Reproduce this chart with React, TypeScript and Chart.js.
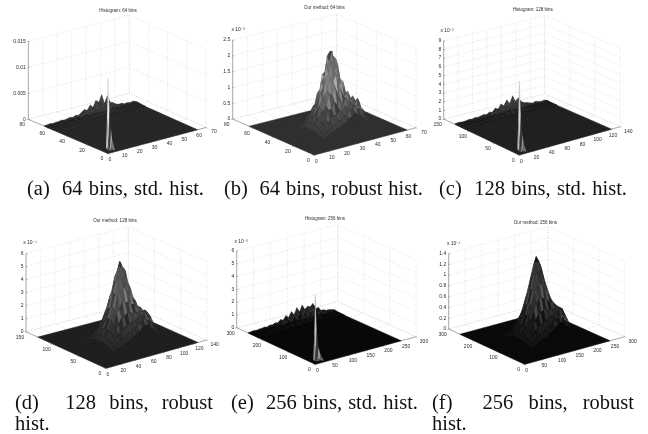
import { useEffect, useRef } from "react";
import { Chart, registerables } from "chart.js";
Chart.register(...registerables);

// ---------- values ----------
const titles = ["Histogram: 64 bins", "Our method: 64 bins", "Histogram: 128 bins", "Our method: 128 bins", "Histogram: 256 bins", "Our method: 256 bins"];
const captions = ["(a)  64 bins, std. hist.", "(b)  64 bins, robust hist.", "(c)  128 bins, std. hist.", "(d)  128 bins, robust", "hist.", "(e)  256 bins, std. hist.", "(f)  256 bins, robust", "hist."];

const xTicks64 = [0, 10, 20, 30, 40, 50, 60, 70];
const yTicks64 = [0, 20, 40, 60, 80];
const xTicks128 = [0, 20, 40, 60, 80, 100, 120, 140];
const yTicks128 = [0, 50, 100, 150];
const xTicks256 = [0, 50, 100, 150, 200, 250, 300];
const yTicks256 = [0, 100, 200, 300];

const zTicksA = [0, 5, 10, 15];
const zLabelsA = ["0", "0.005", "0.01", "0.015"];
const zTicksB = [0, 0.5, 1, 1.5, 2, 2.5];
const zTicksC = [0, 1, 2, 3, 4, 5, 6, 7, 8, 9];
const zTicksD = [0, 1, 2, 3, 4, 5, 6];
const zTicksE = [0, 1, 2, 3, 4, 5, 6];
const zTicksF = [0, 0.2, 0.4, 0.6, 0.8, 1, 1.2, 1.4];

// back-edge bumps of the standard histograms
const ridgeUA = [0, 2, 4, 6, 8, 10, 12, 14, 16, 18, 20, 22, 24, 26, 28, 30, 32, 34, 36, 38, 40, 42, 44, 46, 48, 50, 52, 54, 56, 58, 60, 62, 64];
const ridgeVA = [54, 58, 61, 64];
const ridgeA = [
  [0, .1, .1, .1, .1, .1, .1, .2, .1, .2, .1, .2, .3, .2, .3, .3, .4, .3, .4, .4, .3, .4, .3, .2, .2, .2, .1, .2, .1, .1, .1, .1, .1],
  [.1, .1, .1, .1, .2, .1, .2, .2, .3, .2, .4, .3, .4, .6, .4, .8, .6, 1, .7, 1.1, .8, .9, .6, .7, .4, .3, .3, .2, .2, .2, .1, .2, .1],
  [.1, .2, .1, .2, .1, .3, .2, .3, .2, .3, .5, .3, .7, .5, .9, 1.3, .8, 1.6, 1, 1.9, 1.1, 2, .9, 1.2, .6, .8, .4, .3, .4, .2, .3, .2, .2],
  [.1, .1, .2, .1, .2, .2, .3, .2, .3, .4, .3, .5, .4, .8, 1.2, .9, 1.8, 1.2, 2.4, 1.9, 3.2, 1.4, 2.7, 1.3, 1.1, .7, .5, .6, .3, .4, .3, .4, .2],
];
const ridgeUC = [0, 4, 8, 12, 16, 20, 24, 28, 32, 36, 40, 44, 48, 52, 56, 60, 64, 68, 72, 76, 80, 84, 88, 92, 96, 100, 104, 108, 112, 116, 120, 124, 128];
const ridgeVC = [108, 116, 122, 128];
const ridgeC = [
  [0, .05, .05, .1, .05, .1, .05, .1, .1, .15, .1, .15, .2, .15, .2, .2, .3, .2, .3, .2, .3, .3, .2, .15, .15, .1, .1, .1, .1, .05, .1, .05, .05],
  [.05, .05, .1, .05, .1, .1, .1, .15, .1, .2, .15, .2, .3, .25, .35, .3, .5, .35, .6, .4, .7, .5, .6, .3, .3, .2, .15, .15, .1, .1, .1, .05, .05],
  [.05, .1, .05, .1, .1, .1, .15, .1, .2, .15, .25, .2, .35, .5, .3, .7, .5, .9, .6, 1.1, .7, 1, .6, .5, .3, .3, .2, .2, .15, .1, .1, .1, .05],
  [.05, .1, .1, .05, .1, .15, .1, .2, .15, .2, .3, .2, .4, .3, .7, .5, 1, .7, 1.3, .8, 1.6, .9, 1.2, .7, .5, .4, .3, .2, .3, .2, .15, .2, .1],
];
const ridgeUE = [0, 8, 16, 24, 32, 40, 48, 56, 64, 72, 80, 88, 96, 104, 112, 120, 128, 136, 144, 152, 160, 168, 176, 184, 192, 200, 208, 216, 224, 232, 240, 248, 256];
const ridgeVE = [216, 232, 244, 256];
const ridgeE = [
  [0, .03, .03, .05, .03, .05, .05, .05, .08, .05, .1, .08, .1, .1, .15, .1, .2, .15, .2, .15, .2, .15, .2, .15, .15, .1, .1, .05, .08, .05, .05, .03, .03],
  [.03, .03, .05, .05, .05, .05, .1, .05, .1, .1, .15, .1, .2, .15, .3, .2, .35, .25, .45, .3, .5, .35, .45, .3, .35, .2, .2, .15, .1, .1, .05, .05, .03],
  [.03, .05, .05, .05, .1, .05, .1, .1, .15, .1, .2, .15, .3, .2, .45, .3, .6, .35, .75, .4, .8, .5, .7, .6, .7, .35, .35, .2, .2, .15, .1, .1, .05],
  [.05, .05, .1, .05, .1, .1, .15, .1, .2, .15, .25, .2, .4, .3, .6, .4, .8, .5, 1, .6, 1.1, .7, .9, .8, 1, .5, .6, .3, .3, .2, .2, .15, .1],
];

// spike at the origin of the standard histograms
const spikeUA = [0, 1, 2, 3, 5];
const spikeVA = [0, 1, 2];
const spikeA = [[14.5, 8.5, 5, 2.5, .3], [7, 2, 1, .6, .2], [1, .5, .3, .2, .1]];
const spikeUC = [0, 2, 4, 6, 10];
const spikeVC = [0, 2, 4];
const spikeC = [[8.5, 4.6, 2.4, 1.2, .2], [4, 1.2, .6, .3, .1], [.6, .3, .2, .1, .05]];
const spikeUE = [0, 4, 9, 16, 26];
const spikeVE = [0, 4, 8];
const spikeE = [[5.45, 2.7, 1.3, .6, .1], [2.4, .7, .4, .2, .05], [.3, .15, .1, .05, .02]];
const spikeShadeA = [[235, 60, 165, 120], [200, 90, 140, 90]];
const spikeShadeC = [[215, 55, 150, 110], [180, 80, 120, 70]];
const spikeShadeE = [[190, 60, 150, 100], [150, 70, 100, 50]];

// central mound of the robust histograms (rows run from front to back)
const moundUB = [17, 19, 21, 23, 25, 27, 29, 31, 33, 35, 37, 39, 41, 43, 45, 47, 49];
const moundVB = [16, 18, 20, 22, 24, 26, 28, 30, 32, 34, 36, 38, 40, 42, 44, 46, 48];
const moundB = [
  [.07, .11, .13, .20, .21, .28, .28, .37, .39, .51, .53, .66, .55, .53, .38, .32, .19],
  [.11, .15, .25, .27, .38, .37, .47, .46, .59, .57, .72, .69, .82, .64, .60, .39, .31],
  [.12, .24, .31, .47, .50, .64, .61, .76, .68, .83, .74, .90, .81, .93, .67, .60, .38],
  [.17, .24, .45, .56, .80, .81, 1.02, .90, 1.06, .88, 1.03, .87, 1.02, .85, .94, .62, .53],
  [.17, .32, .44, .76, .92, 1.27, 1.21, 1.42, 1.18, 1.31, 1.05, 1.16, .92, 1.01, .80, .83, .54],
  [.21, .31, .55, .72, 1.21, 1.36, 1.76, 1.58, 1.76, 1.40, 1.48, 1.10, 1.16, .87, .91, .68, .66],
  [.19, .37, .49, .89, 1.07, 1.69, 1.78, 2.18, 1.88, 1.98, 1.47, 1.48, 1.05, 1.03, .74, .72, .52],
  [.22, .30, .58, .73, 1.23, 1.40, 2.10, 2.13, 2.46, 1.98, 1.98, 1.40, 1.31, .88, .83, .56, .52],
  [.19, .35, .45, .81, .96, 1.52, 1.67, 2.30, 2.43, 2.26, 2.14, 1.55, 1.38, .90, .79, .51, .44],
  [.21, .28, .48, .59, .99, 1.14, 1.71, 1.75, 2.29, 2.30, 2.13, 1.60, 1.41, .90, .76, .45, .38],
  [.14, .29, .37, .59, .70, 1.12, 1.20, 1.71, 1.67, 2.06, 1.80, 1.74, 1.21, 1.01, .61, .48, .28],
  [.12, .18, .36, .44, .66, .74, 1.12, 1.14, 1.52, 1.40, 1.66, 1.38, 1.26, .81, .64, .37, .28],
  [.08, .15, .22, .41, .46, .66, .70, .99, .96, 1.22, 1.07, 1.20, .92, .80, .50, .38, .20],
  [.08, .09, .17, .23, .41, .44, .59, .59, .81, .73, .88, .72, .75, .56, .47, .27, .20],
  [.05, .09, .10, .17, .22, .36, .37, .47, .45, .58, .49, .55, .44, .45, .30, .25, .13],
  [.05, .06, .09, .09, .15, .18, .29, .29, .34, .31, .37, .30, .32, .24, .24, .15, .11],
  [.04, .05, .06, .08, .08, .12, .14, .20, .19, .21, .18, .21, .17, .17, .12, .11, .06],
];
const moundUD = [34, 38, 42, 46, 50, 54, 58, 62, 66, 70, 74, 78, 82, 86, 90, 94, 98];
const moundVD = [32, 36, 40, 44, 48, 52, 56, 60, 64, 68, 72, 76, 80, 84, 88, 92, 96];
const moundD = [
  [.17, .25, .35, .45, .57, .62, .76, .84, 1.04, 1.16, 1.42, 1.50, 1.46, 1.21, 1.02, .72, .51],
  [.25, .38, .59, .70, .88, .96, 1.12, 1.17, 1.40, 1.46, 1.70, 1.78, 1.95, 1.63, 1.43, 1.00, .76],
  [.33, .53, .84, 1.06, 1.37, 1.42, 1.68, 1.69, 1.85, 1.86, 2.02, 2.03, 2.21, 2.10, 1.83, 1.35, 1.02],
  [.38, .66, 1.02, 1.53, 1.80, 2.22, 2.27, 2.48, 2.36, 2.43, 2.29, 2.40, 2.26, 2.33, 2.08, 1.72, 1.20],
  [.46, .72, 1.22, 1.68, 2.52, 2.82, 3.32, 3.14, 3.24, 2.92, 2.88, 2.58, 2.53, 2.25, 2.20, 1.86, 1.47],
  [.48, .84, 1.22, 1.99, 2.70, 3.73, 3.94, 4.34, 3.94, 3.84, 3.30, 3.03, 2.58, 2.40, 2.03, 1.87, 1.50],
  [.51, .82, 1.34, 1.98, 2.95, 3.76, 4.90, 4.89, 5.15, 4.42, 4.04, 3.31, 2.88, 2.28, 2.02, 1.62, 1.41],
  [.48, .84, 1.30, 2.01, 2.74, 3.85, 4.67, 5.83, 5.50, 5.43, 4.42, 3.84, 2.92, 2.42, 1.86, 1.54, 1.16],
  [.53, .76, 1.25, 1.78, 2.64, 3.40, 4.57, 5.26, 6.02, 5.50, 5.15, 3.94, 3.23, 2.37, 1.84, 1.32, 1.04],
  [.45, .79, 1.06, 1.62, 2.22, 3.13, 3.80, 4.80, 5.26, 5.83, 4.88, 4.34, 3.16, 2.48, 1.69, 1.24, .84],
  [.39, .65, 1.02, 1.32, 1.92, 2.50, 3.28, 3.80, 4.57, 4.68, 4.90, 3.94, 3.31, 2.27, 1.67, 1.06, .76],
  [.26, .51, .80, 1.21, 1.46, 2.02, 2.50, 3.13, 3.40, 3.84, 3.75, 3.74, 2.82, 2.22, 1.42, 1.01, .63],
  [.23, .34, .61, .91, 1.26, 1.46, 1.92, 2.22, 2.63, 2.74, 2.93, 2.70, 2.53, 1.78, 1.36, .84, .56],
  [.17, .26, .38, .63, .90, 1.21, 1.32, 1.62, 1.80, 2.00, 1.97, 1.97, 1.68, 1.54, 1.06, .73, .46],
  [.15, .19, .29, .38, .61, .79, 1.01, 1.06, 1.24, 1.30, 1.34, 1.23, 1.21, 1.02, .84, .55, .36],
  [.12, .15, .19, .26, .33, .50, .65, .79, .77, .84, .81, .84, .72, .66, .53, .41, .24],
  [.10, .12, .16, .16, .23, .26, .38, .45, .53, .48, .51, .48, .46, .38, .33, .24, .18],
];
const moundUF = [68, 76, 84, 92, 100, 108, 116, 124, 132, 140, 148, 156, 164, 172, 180, 188, 196];
const moundVF = [64, 72, 80, 88, 96, 104, 112, 120, 128, 136, 144, 152, 160, 168, 176, 184, 192];
const moundF = [
  [.04, .06, .09, .11, .14, .16, .18, .22, .25, .29, .35, .37, .37, .30, .25, .19, .12],
  [.06, .10, .14, .18, .21, .25, .27, .31, .34, .38, .41, .47, .47, .43, .34, .26, .18],
  [.08, .13, .21, .27, .33, .37, .41, .43, .45, .48, .49, .53, .54, .53, .45, .34, .25],
  [.10, .16, .26, .38, .45, .55, .58, .60, .61, .59, .59, .58, .59, .56, .54, .42, .31],
  [.11, .19, .29, .43, .62, .72, .81, .81, .79, .75, .70, .66, .62, .58, .54, .47, .36],
  [.12, .20, .32, .48, .69, .91, 1.01, 1.06, 1.01, .94, .85, .74, .66, .59, .52, .46, .38],
  [.12, .21, .33, .51, .72, .96, 1.20, 1.25, 1.26, 1.13, .99, .85, .70, .59, .49, .41, .35],
  [.12, .20, .33, .49, .70, .94, 1.20, 1.43, 1.41, 1.33, 1.13, .94, .75, .59, .48, .38, .30],
  [.13, .20, .30, .46, .64, .87, 1.12, 1.35, 1.50, 1.41, 1.26, 1.01, .79, .60, .45, .34, .25],
  [.12, .19, .27, .40, .57, .77, .97, 1.17, 1.35, 1.43, 1.25, 1.06, .81, .60, .43, .30, .22],
  [.09, .17, .25, .34, .47, .64, .80, .97, 1.12, 1.20, 1.20, 1.01, .81, .58, .41, .27, .19],
  [.07, .12, .20, .30, .38, .49, .64, .77, .87, .94, .96, .91, .72, .54, .36, .25, .16],
  [.06, .09, .15, .23, .31, .38, .47, .57, .64, .70, .72, .69, .62, .46, .33, .22, .14],
  [.04, .06, .10, .15, .23, .30, .34, .39, .46, .49, .51, .48, .43, .38, .27, .18, .12],
  [.04, .05, .07, .10, .15, .20, .25, .27, .30, .33, .33, .31, .30, .26, .20, .14, .09],
  [.03, .04, .05, .06, .09, .12, .17, .19, .20, .20, .21, .20, .19, .16, .14, .10, .06],
  [.02, .03, .04, .04, .06, .07, .09, .12, .13, .12, .12, .12, .11, .10, .08, .06, .04],
];

// ---------- layout of each box (page pixels) ----------
type Pt = [number, number];
interface Surface { us: number[]; vs: number[]; hs: number[][]; kind: "ridge" | "spike" | "mound"; lo: number; mid: number; top: number; alt: number; mesh: string; shade?: number[][]; }
interface Panel {
  origin: Pt; title: string; titleAt: Pt; L: Pt; F: Pt; R: Pt; B: Pt; zH: number;
  xMax: number; yMax: number; zMax: number; xTicks: number[]; yTicks: number[]; zTicks: number[]; zLabels?: string[];
  exp?: string; expAt?: Pt; bins: number; floor: string; floorMesh: string; surfaces: Surface[];
}
const ridge = (us: number[], vs: number[], hs: number[][], lo: number, mid: number, mesh: string): Surface => ({ us, vs, hs, kind: "ridge", lo, mid, top: mid, alt: 5, mesh });
const spike = (us: number[], vs: number[], hs: number[][], shade: number[][]): Surface => ({ us, vs, hs, kind: "spike", lo: 0, mid: 0, top: 0, alt: 0, mesh: "rgba(40,40,40,.35)", shade });
const mound = (us: number[], vs: number[], hs: number[][], lo: number, mid: number, top: number, alt: number, mesh: string): Surface => ({ us, vs, hs, kind: "mound", lo, mid, top, alt, mesh });

const panels: Panel[] = [
  { origin: [0, 0], title: titles[0], titleAt: [118, 10.7], L: [28.3, 119.3], F: [108, 153.5], R: [206, 127.5], B: [129.3, 93.3], zH: 78,
    xMax: 70, yMax: 80, zMax: 15, xTicks: xTicks64, yTicks: yTicks64, zTicks: zTicksA, zLabels: zLabelsA, bins: 64, floor: "#2e2e2e", floorMesh: "#1d1d1d",
    surfaces: [ridge(ridgeUA, ridgeVA, ridgeA, 44, 62, "rgba(15,15,15,.75)"), spike(spikeUA, spikeVA, spikeA, spikeShadeA)] },
  { origin: [216, 0], title: titles[1], titleAt: [324.3, 7.3], L: [232.7, 119], F: [314.3, 155], R: [416, 127.7], B: [336.7, 93], zH: 79,
    xMax: 70, yMax: 80, zMax: 2.5, xTicks: xTicks64, yTicks: yTicks64, zTicks: zTicksB, exp: "x 10⁻³", expAt: [238, 29.3], bins: 64, floor: "#363636", floorMesh: "#262626",
    surfaces: [mound(moundUB, moundVB, moundB, 54, 138, 96, 24, "rgba(30,30,30,.3)")] },
  { origin: [432, 0], title: titles[2], titleAt: [532.7, 9.7], L: [443.7, 119], F: [519.3, 155], R: [620.3, 126.7], B: [544.7, 94], zH: 78.3,
    xMax: 140, yMax: 150, zMax: 9, xTicks: xTicks128, yTicks: yTicks128, zTicks: zTicksC, exp: "x 10⁻³", expAt: [447, 31], bins: 128, floor: "#262626", floorMesh: "#161616",
    surfaces: [ridge(ridgeUC, ridgeVC, ridgeC, 36, 56, "rgba(10,10,10,.75)"), spike(spikeUC, spikeVC, spikeC, spikeShadeC)] },
  { origin: [0, 205], title: titles[3], titleAt: [115, 221], L: [26, 331.7], F: [106, 368.3], R: [206.7, 340], B: [128.3, 305], zH: 78.3,
    xMax: 140, yMax: 150, zMax: 6, xTicks: xTicks128, yTicks: yTicks128, zTicks: zTicksD, exp: "x 10⁻⁴", expAt: [30, 242.7], bins: 128, floor: "#242424", floorMesh: "#181818",
    surfaces: [mound(moundUD, moundVD, moundD, 38, 98, 70, 20, "rgba(18,18,18,.3)")] },
  { origin: [216, 205], title: titles[4], titleAt: [325, 218.7], L: [236.7, 327.7], F: [315.3, 364.3], R: [416, 336.7], B: [337.7, 301.7], zH: 77,
    xMax: 300, yMax: 300, zMax: 6, xTicks: xTicks256, yTicks: yTicks256, zTicks: zTicksE, exp: "x 10⁻³", expAt: [241, 241.7], bins: 256, floor: "#0b0b0b", floorMesh: "#050505",
    surfaces: [ridge(ridgeUE, ridgeVE, ridgeE, 14, 32, "rgba(4,4,4,.75)"), spike(spikeUE, spikeVE, spikeE, spikeShadeE)] },
  { origin: [432, 205], title: titles[5], titleAt: [535.3, 222.3], L: [448.7, 329], F: [524.7, 364.3], R: [624.7, 336.7], B: [547.7, 302.3], zH: 75.5,
    xMax: 300, yMax: 300, zMax: 1.4, xTicks: xTicks256, yTicks: yTicks256, zTicks: zTicksF, exp: "x 10⁻⁴", expAt: [453.7, 243.3], bins: 256, floor: "#0d0d0d", floorMesh: "#060606",
    surfaces: [mound(moundUF, moundVF, moundF, 18, 66, 42, 18, "rgba(8,8,8,.3)")] },
];

const captionBoxes = [
  { x: 27, y: 188, w: 177 }, { x: 224, y: 188, w: 199 }, { x: 439, y: 188, w: 188 },
  { x: 15, y: 402, w: 198 }, { x: 15, y: 423, w: 0 }, { x: 231, y: 402, w: 187 },
  { x: 432, y: 402, w: 202 }, { x: 432, y: 423, w: 0 },
];

const CELL_W = 232;
const CELL_H = 205;

function project(p: Panel, u: number, v: number, z: number) {
  const s = u / p.xMax;
  const t = v / p.yMax;
  const a = (1 - s) * (1 - t), b = s * (1 - t), c = (1 - s) * t, d = s * t;
  return {
    x: a * p.F[0] + b * p.R[0] + c * p.L[0] + d * p.B[0],
    y: a * p.F[1] + b * p.R[1] + c * p.L[1] + d * p.B[1] - (z / p.zMax) * p.zH,
  };
}

function seg(data: { x: number; y: number }[], color: string, width: number, dash: number[] = []) {
  return { type: "scatter", data, showLine: true, pointRadius: 0, borderColor: color, borderWidth: width, borderDash: dash, fill: false, tension: 0 } as any;
}
function poly(data: { x: number; y: number }[], fillColor: string, stroke: string, width: number) {
  return { ...seg([...data, data[0]], stroke, width), polyFill: fillColor } as any;
}

function cellGray(s: Surface, r: number, c: number, maxH: number) {
  if (s.shade) return s.shade[r][c];
  const h = (s.hs[r][c] + s.hs[r][c + 1] + s.hs[r + 1][c] + s.hs[r + 1][c + 1]) / 4;
  const t = h / maxH;
  let body: number;
  if (t < 0.3) body = s.lo + (s.mid - s.lo) * 0.3 * (t / 0.3);
  else if (t < 0.6) body = s.lo + (s.mid - s.lo) * (0.3 + 0.7 * ((t - 0.3) / 0.3));
  else body = s.mid + (s.top - s.mid) * ((t - 0.6) / 0.4);
  const stripe = ((c - r) & 1 ? 1 : -1) * 0.7 + (((c * 3 + r * 5) % 7) - 3) * 0.25;
  return Math.max(0, Math.min(235, Math.round(body + s.alt * stripe * Math.max(0, Math.min(1, (t - 0.12) / 0.28)))));
}

function buildDatasets(p: Panel) {
  const back: any[] = [];
  const GRID = "#c6c6c6";
  const DOT = [1, 1.6];
  for (const z of p.zTicks) {
    back.push(seg([project(p, 0, p.yMax, z), project(p, p.xMax, p.yMax, z), project(p, p.xMax, 0, z)], GRID, 0.5, DOT));
  }
  for (const x of p.xTicks) {
    back.push(seg([project(p, x, 0, 0), project(p, x, p.yMax, 0), project(p, x, p.yMax, p.zMax)], GRID, 0.5, DOT));
  }
  for (const y of p.yTicks) {
    back.push(seg([project(p, 0, y, 0), project(p, p.xMax, y, 0), project(p, p.xMax, y, p.zMax)], GRID, 0.5, DOT));
  }
  const AX = "#777";
  back.push(seg([project(p, 0, p.yMax, 0), project(p, 0, 0, 0), project(p, p.xMax, 0, 0)], AX, 0.6));
  back.push(seg([project(p, 0, p.yMax, 0), project(p, 0, p.yMax, p.zMax)], AX, 0.6));
  for (const x of p.xTicks) back.push(seg([project(p, x, 0, 0), project(p, x, -p.yMax * 0.015, 0)], AX, 0.5));
  for (const y of p.yTicks) back.push(seg([project(p, 0, y, 0), project(p, -p.xMax * 0.015, y, 0)], AX, 0.5));
  for (const z of p.zTicks) {
    const q = project(p, 0, p.yMax, z);
    back.push(seg([q, { x: q.x + 1.5, y: q.y + 0.3 }], AX, 0.5));
  }
  const N = p.bins;
  back.push(poly([project(p, 0, 0, 0), project(p, N, 0, 0), project(p, N, N, 0), project(p, 0, N, 0)], p.floor, p.floorMesh, 0.4));
  const step = N / 32;
  for (let k = step; k < N; k += step) {
    back.push(seg([project(p, k, 0, 0), project(p, k, N, 0)], p.floorMesh, 0.35));
    back.push(seg([project(p, 0, k, 0), project(p, N, k, 0)], p.floorMesh, 0.35));
  }
  for (const s of p.surfaces) {
    const maxH = Math.max(...s.hs.map((row) => Math.max(...row)));
    for (let r = s.vs.length - 2; r >= 0; r--) {
      for (let c = s.us.length - 2; c >= 0; c--) {
        const g = cellGray(s, r, c, maxH);
        back.push(poly(
          [project(p, s.us[c], s.vs[r], s.hs[r][c]), project(p, s.us[c + 1], s.vs[r], s.hs[r][c + 1]), project(p, s.us[c + 1], s.vs[r + 1], s.hs[r + 1][c + 1]), project(p, s.us[c], s.vs[r + 1], s.hs[r + 1][c])],
          `rgb(${g},${g},${g})`, s.mesh, 0.3));
      }
    }
  }
  return back.reverse(); // Chart.js paints the last dataset first
}

const polyFillPlugin = {
  id: "polyFill",
  beforeDatasetDraw(chart: any, args: any) {
    const ds = chart.data.datasets[args.index];
    if (!ds.polyFill) return;
    const pts = args.meta.data;
    const ctx = chart.ctx;
    ctx.save();
    ctx.beginPath();
    pts.forEach((pt: any, i: number) => (i ? ctx.lineTo(pt.x, pt.y) : ctx.moveTo(pt.x, pt.y)));
    ctx.closePath();
    ctx.fillStyle = ds.polyFill;
    ctx.fill();
    ctx.restore();
  },
};

const labelsPlugin = {
  id: "boxLabels",
  afterDraw(chart: any) {
    const p: Panel = chart.options.plugins.boxLabels.panel;
    const ctx = chart.ctx;
    const sx = (x: number) => chart.scales.x.getPixelForValue(x);
    const sy = (y: number) => chart.scales.y.getPixelForValue(y);
    const text = (t: string, x: number, y: number, align: CanvasTextAlign, size = 5) => {
      ctx.font = `${size}px "Liberation Sans"`;
      ctx.textAlign = align;
      ctx.textBaseline = "middle";
      ctx.fillStyle = "#2a2a2a";
      ctx.fillText(t, sx(x), sy(y));
    };
    ctx.save();
    text(p.title, p.titleAt[0], p.titleAt[1], "center", 4.5);
    p.xTicks.forEach((x) => {
      const q = project(p, x, 0, 0);
      const t = x / p.xMax;
      text(String(x), q.x + 2 + 6 * t, q.y + 6.5 - 2 * t, "center");
    });
    p.yTicks.forEach((y) => {
      const q = project(p, 0, y, 0);
      text(String(y), q.x - 6, q.y + 5.5, "center");
    });
    p.zTicks.forEach((z, i) => {
      const q = project(p, 0, p.yMax, z);
      text(p.zLabels ? p.zLabels[i] : String(z), q.x - 2.5, q.y, "right");
    });
    if (p.exp && p.expAt) text(p.exp, p.expAt[0], p.expAt[1], "center");
    ctx.restore();
  },
};

function Box({ p }: { p: Panel }) {
  const ref = useRef<HTMLCanvasElement>(null);
  useEffect(() => {
    const chart = new Chart(ref.current as HTMLCanvasElement, {
      type: "scatter",
      data: { datasets: buildDatasets(p) },
      plugins: [polyFillPlugin, labelsPlugin],
      options: {
        animation: false,
        responsive: false,
        layout: { padding: 0 },
        events: [],
        scales: {
          x: { type: "linear", display: false, min: p.origin[0], max: p.origin[0] + CELL_W },
          y: { type: "linear", display: false, min: p.origin[1], max: p.origin[1] + CELL_H, reverse: true },
        },
        plugins: { legend: { display: false }, tooltip: { enabled: false }, title: { display: false }, boxLabels: { panel: p } } as any,
      },
    } as any);
    return () => chart.destroy();
  }, [p]);
  return (
    <canvas
      ref={ref}
      width={CELL_W}
      height={CELL_H}
      style={{ position: "absolute", left: p.origin[0], top: p.origin[1], width: CELL_W, height: CELL_H, filter: "blur(0.4px)" }}
    />
  );
}

export default function App() {
  return (
    <div style={{ position: "absolute", left: 0, top: 0, width: 648, height: 434, background: "#fff", overflow: "hidden" }}>
      {panels.map((p) => (
        <Box key={p.title} p={p} />
      ))}
      {captions.map((c, i) => {
        const b = captionBoxes[i];
        return (
          <div
            key={i}
            style={{
              position: "absolute", left: b.x, top: b.y - 11, height: 22,
              width: b.w || undefined, whiteSpace: "pre-wrap", textAlign: b.w ? "justify" : "left", textAlignLast: b.w ? "justify" : "left",
              font: '20.5px/22px "Liberation Serif"', color: "#111",
            }}
          >
            {c}
          </div>
        );
      })}
    </div>
  );
}
